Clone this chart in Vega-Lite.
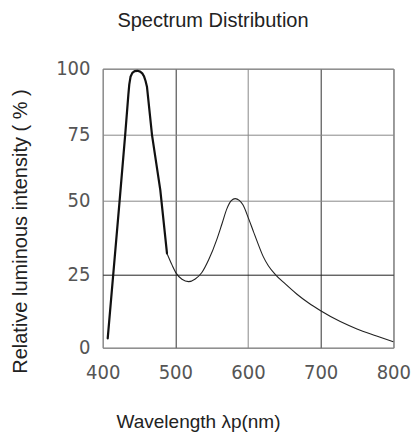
{
  "$schema": "https://vega.github.io/schema/vega-lite/v6.json",
  "autosize": {"type": "none"},
  "padding": {"left": 102.7, "top": 68.7, "right": 19.7, "bottom": 88.3},
  "width": 290.6,
  "height": 279,
  "background": "white",
  "title": {"text": "Spectrum Distribution", "font": "Liberation Sans", "fontSize": 20, "fontWeight": "normal", "color": "#222", "anchor": "middle", "frame": "group", "dx": -35, "dy": -11, "offset": 17},
  "config": {"view": {"stroke": "#777", "strokeWidth": 1}},
  "data": {"values": [
    {"wavelength": 406.9, "intensity": 3.2, "part": "peak"},
    {"wavelength": 423.3, "intensity": 50, "part": "peak"},
    {"wavelength": 431.0, "intensity": 75, "part": "peak"},
    {"wavelength": 435.3, "intensity": 90, "part": "peak"},
    {"wavelength": 436.6, "intensity": 94, "part": "peak"},
    {"wavelength": 438.3, "intensity": 96.9, "part": "peak"},
    {"wavelength": 440.8, "intensity": 98.4, "part": "peak"},
    {"wavelength": 444, "intensity": 99.1, "part": "peak"},
    {"wavelength": 448, "intensity": 99.2, "part": "peak"},
    {"wavelength": 451.5, "intensity": 98.9, "part": "peak"},
    {"wavelength": 454.5, "intensity": 98.2, "part": "peak"},
    {"wavelength": 457, "intensity": 97, "part": "peak"},
    {"wavelength": 459, "intensity": 95.3, "part": "peak"},
    {"wavelength": 461, "intensity": 93, "part": "peak"},
    {"wavelength": 467.9, "intensity": 74.7, "part": "peak"},
    {"wavelength": 479.3, "intensity": 54, "part": "peak"},
    {"wavelength": 488.5, "intensity": 32.1, "part": "peak"},
    {"wavelength": 488.5, "intensity": 32.1, "part": "tail"},
    {"wavelength": 495.4, "intensity": 28.2, "part": "tail"},
    {"wavelength": 501.3, "intensity": 25.3, "part": "tail"},
    {"wavelength": 509.1, "intensity": 23.3, "part": "tail"},
    {"wavelength": 518.2, "intensity": 22.5, "part": "tail"},
    {"wavelength": 527.4, "intensity": 23.4, "part": "tail"},
    {"wavelength": 536.5, "intensity": 25.6, "part": "tail"},
    {"wavelength": 546, "intensity": 30, "part": "tail"},
    {"wavelength": 557, "intensity": 36.8, "part": "tail"},
    {"wavelength": 564, "intensity": 42, "part": "tail"},
    {"wavelength": 571, "intensity": 47.3, "part": "tail"},
    {"wavelength": 577, "intensity": 50, "part": "tail"},
    {"wavelength": 582.4, "intensity": 50.8, "part": "tail"},
    {"wavelength": 588, "intensity": 50.1, "part": "tail"},
    {"wavelength": 593, "intensity": 48.6, "part": "tail"},
    {"wavelength": 600.7, "intensity": 44, "part": "tail"},
    {"wavelength": 607.5, "intensity": 39.5, "part": "tail"},
    {"wavelength": 614.4, "intensity": 35, "part": "tail"},
    {"wavelength": 621, "intensity": 31, "part": "tail"},
    {"wavelength": 628, "intensity": 27.9, "part": "tail"},
    {"wavelength": 637.4, "intensity": 25.0, "part": "tail"},
    {"wavelength": 651, "intensity": 21.8, "part": "tail"},
    {"wavelength": 667, "intensity": 18.3, "part": "tail"},
    {"wavelength": 683, "intensity": 15.3, "part": "tail"},
    {"wavelength": 700, "intensity": 12.6, "part": "tail"},
    {"wavelength": 727, "intensity": 8.9, "part": "tail"},
    {"wavelength": 750, "intensity": 6.4, "part": "tail"},
    {"wavelength": 777, "intensity": 4.0, "part": "tail"},
    {"wavelength": 800, "intensity": 2.0, "part": "tail"}
  ]},
  "encoding": {
    "x": {
      "field": "wavelength", "type": "quantitative",
      "scale": {"domain": [400, 800], "nice": false, "zero": false},
      "axis": {
        "values": [400, 500, 600, 700, 800],
        "title": "Wavelength  λp(nm)",
        "titleFont": "Liberation Sans", "titleFontSize": 19, "titleFontWeight": "normal", "titleColor": "#222",
        "titleX": 95.3, "titleY": 79.3, "titleBaseline": "alphabetic", "titleAlign": "center",
        "labelFont": "DejaVu Sans Condensed, Liberation Sans Narrow, DejaVu Sans", "labelFontSize": 20, "labelColor": "#555",
        "labelPadding": 15, "labelFlush": false, "ticks": false, "domain": false,
        "grid": true, "gridWidth": 1,
        "gridColor": {"condition": {"test": "datum.value === 500 || datum.value === 700", "value": "#333"}, "value": "#888"}
      }
    },
    "y": {
      "field": "intensity", "type": "quantitative",
      "scale": {"domain": [0, 25, 50, 75, 100], "range": [279, 205.6, 132, 65.6, 0]},
      "axis": {
        "values": [0, 25, 50, 75, 100],
        "title": "Relative luminous intensity ( % )",
        "titleFont": "Liberation Sans", "titleFontSize": 20, "titleFontWeight": "normal", "titleColor": "#222",
        "titleX": -82.7, "titleY": 162.3, "titleBaseline": "middle", "titleAlign": "center", "titleAngle": -90,
        "labelFont": "DejaVu Sans Condensed, Liberation Sans Narrow, DejaVu Sans", "labelFontSize": 20, "labelColor": "#555",
        "labelPadding": 12.7, "labelFlush": false, "ticks": false, "domain": false,
        "grid": true, "gridWidth": 1,
        "gridColor": {"condition": {"test": "datum.value === 25", "value": "#222"}, "value": "#888"}
      }
    }
  },
  "layer": [
    {
      "transform": [{"filter": "datum.part === 'peak'"}],
      "mark": {"type": "line", "interpolate": "linear", "color": "#111", "strokeWidth": 2.2, "strokeJoin": "round", "strokeCap": "round"}
    },
    {
      "transform": [{"filter": "datum.part === 'tail'"}],
      "mark": {"type": "line", "interpolate": "monotone", "color": "#222", "strokeWidth": 1.1, "strokeJoin": "round"}
    },
    {
      "data": {"values": [{"label": "Ta=25°C"}]},
      "mark": {"type": "text", "font": "Liberation Sans", "fontSize": 20, "baseline": "alphabetic", "align": "center", "color": "#111"},
      "encoding": {
        "x": {"datum": 711},
        "y": {"datum": 101.4},
        "text": {"field": "label"}
      }
    }
  ]
}
